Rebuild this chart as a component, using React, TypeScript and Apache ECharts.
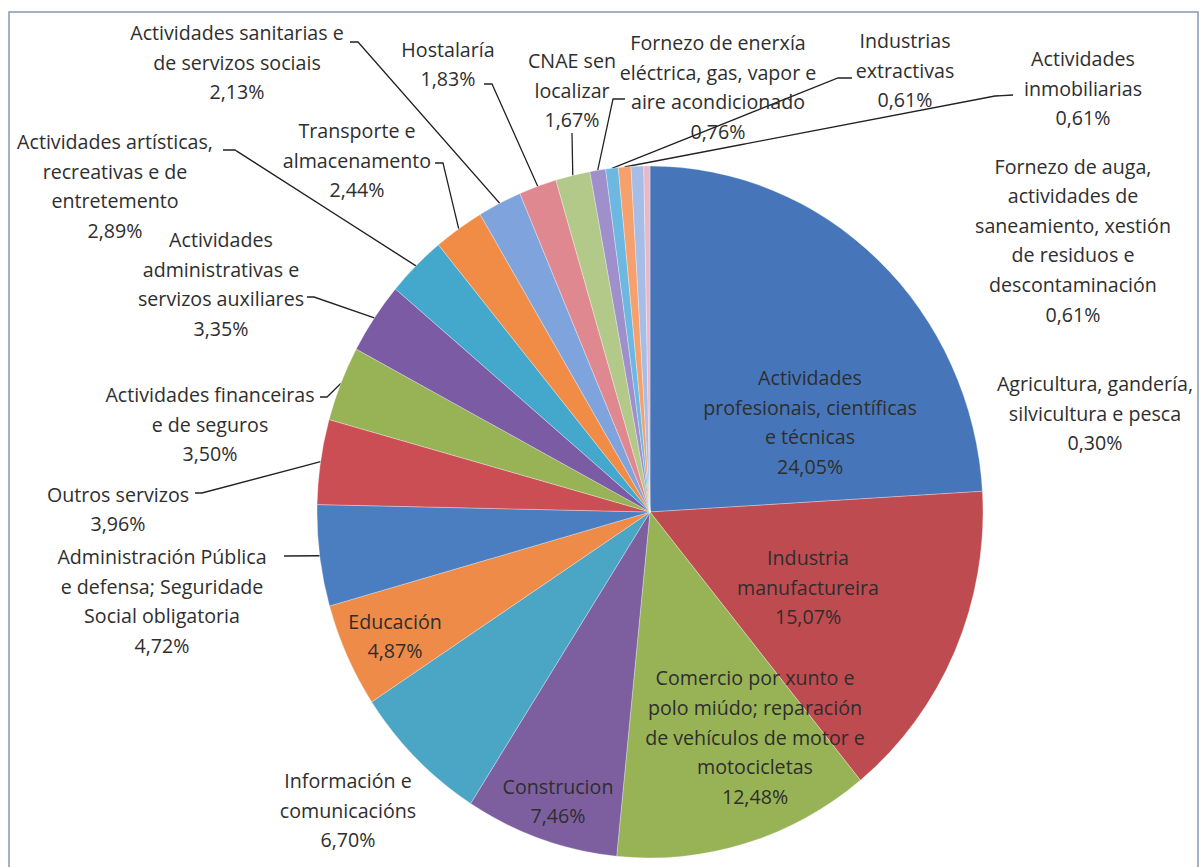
import React, { useEffect, useRef } from "react";
import * as echarts from "echarts";

// ---- Data ----
const categories: string[] = [
  "Actividades\nprofesionais, científicas\ne técnicas",
  "Industria\nmanufactureira",
  "Comercio por xunto e\npolo miúdo; reparación\nde vehículos de motor e\nmotocicletas",
  "Construcion",
  "Información e\ncomunicacións",
  "Educación",
  "Administración Pública\ne defensa; Seguridade\nSocial obligatoria",
  "Outros servizos",
  "Actividades financeiras\ne de seguros",
  "Actividades\nadministrativas e\nservizos auxiliares",
  "Actividades artísticas,\nrecreativas e de\nentretemento",
  "Transporte e\nalmacenamento",
  "Actividades sanitarias e\nde servizos sociais",
  "Hostalaría",
  "CNAE sen\nlocalizar",
  "Fornezo de enerxía\neléctrica, gas, vapor e\naire acondicionado",
  "Industrias\nextractivas",
  "Actividades\ninmobiliarias",
  "Fornezo de auga,\nactividades de\nsaneamiento, xestión\nde residuos e\ndescontaminación",
  "Agricultura, gandería,\nsilvicultura e pesca",
];

const values: number[] = [
  24.05, 15.07, 12.48, 7.46, 6.7, 4.87, 4.72, 3.96, 3.5, 3.35, 2.89, 2.44, 2.13,
  1.83, 1.67, 0.76, 0.61, 0.61, 0.61, 0.3,
];

// ---- Styles / layout ----
const colors: string[] = [
  "#4676B9", "#BE4B4F", "#98B355", "#7D5FA0", "#4BA6C6", "#EE8B48",
  "#4A7EC0", "#CC4E55", "#98B355", "#7B5BA3", "#44A8CC", "#F18C47",
  "#7FA3DD", "#E08890", "#B2C98A", "#9F8FCB", "#6DB8E0", "#F6A06E",
  "#A6BDE8", "#E9B8C8",
];

const OFF = 30; // chart canvas extends beyond the page on every side
const W = 1201 + 2 * OFF;
const H = 867 + 2 * OFF;
const CX = 650; // pie centre, page pixels
const CY = 512;
const CXc = CX + OFF; // pie centre, chart pixels
const CYc = CY + OFF;
const R = 339;
// the original pie is slightly elliptical
const SX = 333 / 339;
const SY = 346 / 339;

// page pixels -> chart pixels (before the css scale)
function inv(p: number[]): number[] {
  return [CXc + (p[0] - CX) / SX, CYc + (p[1] - CY) / SY];
}

// label block centres (page pixels)
const labelCenters: number[][] = [
  [810, 422], [808, 587], [755, 737], [558, 801], [348, 810], [395, 636],
  [162, 601], [118, 509], [210, 424], [221, 284], [115, 186], [357, 160],
  [237, 62], [448, 64], [572, 90], [718, 87], [905, 70], [1083, 88],
  [1073, 240], [1095, 413],
];

// leader line points on the label side (page pixels); null = no leader
const leaderEnds: (number[][] | null)[] = [
  null, null, null, null, null, null,
  [[284, 556]],
  [[202, 493], [195, 493]],
  [[327, 397], [320, 397]],
  [[314, 297], [307, 297]],
  [[235, 150], [223, 150]],
  [[443, 163], [435, 163]],
  [[358, 42], [350, 42]],
  [[492, 84], [484, 84]],
  [[572, 133]],
  [[613, 99], [625, 99]],
  [[838, 78], [852, 78]],
  [[995, 96], [1013, 95]],
  null, null,
];

function fmt(v: number): string {
  return v.toFixed(2).replace(".", ",") + "%";
}

function anchorFor(i: number): number[] {
  const total = values.reduce((a, b) => a + b, 0);
  let cum = 0;
  for (let k = 0; k < i; k++) cum += values[k];
  const mid = ((cum + values[i] / 2) / total) * Math.PI * 2;
  return [CXc + R * Math.sin(mid), CYc - R * Math.cos(mid)];
}

export default function App() {
  const ref = useRef<HTMLDivElement>(null);

  useEffect(() => {
    if (!ref.current) return;
    const chart = echarts.init(ref.current, null, { renderer: "svg" });
    const data = categories.map((name, i) => ({
      name,
      value: values[i],
      itemStyle: { color: colors[i] },
      labelLine: { show: leaderEnds[i] != null },
    }));
    const b0 = inv([9, 12]);
    const b1 = inv([1198, 892]);
    chart.setOption({
      animation: false,
      backgroundColor: "#ffffff",
      graphic: [
        {
          type: "rect",
          shape: { x: b0[0], y: b0[1], width: b1[0] - b0[0], height: b1[1] - b0[1] },
          style: { fill: "none", stroke: "#8497B0", lineWidth: 1.5 },
          silent: true,
        },
      ],
      series: [
        {
          type: "pie",
          center: [CXc, CYc],
          radius: R,
          startAngle: 90,
          clockwise: true,
          avoidLabelOverlap: false,
          itemStyle: { borderColor: "rgba(255,255,255,0.6)", borderWidth: 0.5 },
          label: {
            show: true,
            position: "outside",
            formatter: (p: any) => p.name + "\n" + fmt(p.value),
            fontFamily: "Open Sans",
            fontSize: 20,
            lineHeight: 29,
            color: "#2e2e2e",
            align: "center",
          },
          labelLine: {
            show: true,
            lineStyle: { color: "#222222", width: 1.3 },
          },
          labelLayout: (params: any) => {
            const i = params.dataIndex;
            const c = inv(labelCenters[i]);
            const res: any = {
              x: c[0],
              y: c[1],
              align: "center",
              verticalAlign: "middle",
            };
            const ends = leaderEnds[i];
            if (ends) {
              const a =
                params.labelLinePoints && params.labelLinePoints[0]
                  ? params.labelLinePoints[0]
                  : anchorFor(i);
              res.labelLinePoints = [a, ...ends.map(inv)];
            }
            return res;
          },
          data,
        },
      ],
    });
    return () => chart.dispose();
  }, []);

  return (
    <div
      ref={ref}
      style={{
        position: "fixed",
        left: -OFF,
        top: -OFF,
        width: W,
        height: H,
        transform: `scale(${SX}, ${SY})`,
        transformOrigin: `${CXc}px ${CYc}px`,
      }}
    />
  );
}
